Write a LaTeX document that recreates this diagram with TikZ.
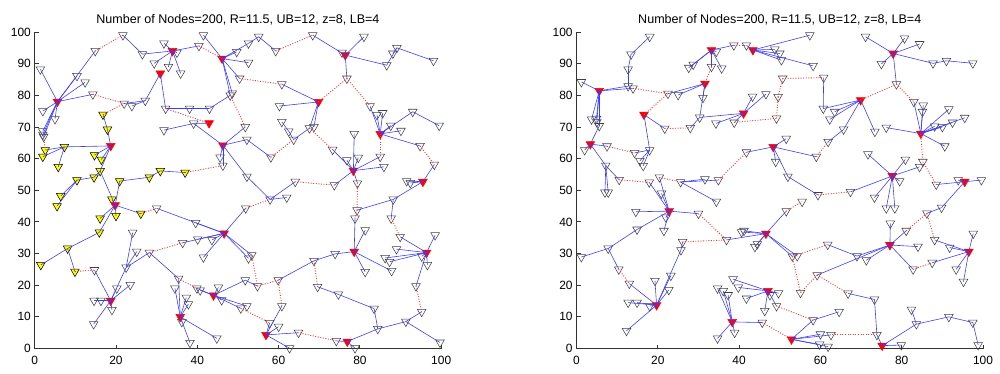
\documentclass[tikz,border=0pt]{standalone}
\usepackage{fontspec}
\setmainfont{Liberation Sans}
\usetikzlibrary{shapes.geometric}
\definecolor{linkblue}{RGB}{60,60,255}
\definecolor{gatered}{RGB}{255,55,55}
\definecolor{nodeyellow}{RGB}{255,255,0}
\tikzstyle{member}=[regular polygon, regular polygon sides=3, shape border rotate=180, draw=black!75, line width=0.45pt, minimum size=0.3cm, inner sep=0pt]
\tikzstyle{head}=[member, draw=red, fill=red]
\tikzstyle{yel}=[member, draw=black, fill=nodeyellow]
\tikzstyle{link}=[linkblue, line width=0.5pt]
\tikzstyle{gate}=[gatered, line width=0.8pt, dash pattern=on 0.8pt off 1.4pt]
\tikzstyle{axis}=[black!80, line width=0.7pt]
\tikzstyle{every node}=[font=\fontsize{10.2}{12}\selectfont]
\newcommand{\plottitle}{Number of Nodes=200, R=11.5, UB=12, z=8, LB=4}

\begin{document}
\begin{tikzpicture}
    \useasboundingbox (0,0) rectangle (30cm,11.19cm);
    % left panel
    \begin{scope}[shift={(1.041cm,0.735cm)}, x=0.12195cm, y=0.09495cm]
    \draw[axis] (0,100) -- (0,0) -- (100,0);
    \foreach \t in {0,20,...,100} {
        \draw[axis] (\t,0) -- ++(0,1.2);
        \node[anchor=north, inner sep=0pt] (Lxt\t) at (\t,-2.3) {\t};
    }
    \foreach \t in {0,10,...,100} {
        \draw[axis] (0,\t) -- ++(1,0);
        \node[anchor=east, inner sep=0pt] (Lyt\t) at (-0.9,\t) {\t};
    }
    \node[anchor=base, font=\fontsize{10.7}{12}\selectfont] (Ltitle) at (50,102.7) {\plottitle};
    \foreach \n/\x/\y in {1/1.4/88.2, 2/2/75, 3/5/72.5, 4/2/68.7, 5/2/67.6, 6/2.2/66.9, 7/10.4/86.1, 8/12.4/84.1, 9/14.3/80.3, 10/14.9/94, 11/21.7/99, 12/22/77.4, 13/26.5/93, 14/31.8/96.4, 15/35/93.5, 16/29.4/90.1, 17/32.9/89, 18/35.9/86.9, 19/40.4/95.6, 20/41.5/99, 21/49.7/93.7, 22/52.6/96.4, 23/52.6/90.3, 24/50.4/85.3, 25/48.1/80, 26/48.6/80.6, 27/55.1/98.5, 28/59.3/94, 29/68.4/99, 31/60.8/83.5, 32/27.2/78.3, 33/32.2/75.8, 34/38.1/75.8, 35/43/75.8, 36/23.9/76.6, 37/39.1/71.1, 38/31.8/69, 39/51.8/70, 40/52.2/66, 41/45.6/60.4, 42/46.3/57.8, 43/52.2/54.3, 44/30/44.3, 45/39.6/39.7, 46/36.4/33.4, 47/40.1/34.5, 48/43.6/34.3, 49/41.5/28.8, 50/51.9/44.3, 51/52.6/28.5, 52/53.4/29.5, 53/28.2/30.3, 54/25.1/30.6, 55/22.5/25.6, 56/24.1/36.6, 57/14.7/24.8, 58/23.5/20.1, 59/20.2/19, 60/14.6/15.1, 61/16.3/15.1, 62/19/12.2, 63/14.5/7.7, 64/35.4/22.1, 65/34.5/19, 66/37.3/16.1, 67/37.8/14, 68/36.2/8.4, 69/38.2/1.8, 70/44.8/3.2, 72/39.9/19, 73/40.7/18.4, 74/45.2/19.3, 75/46/15.3, 76/51.8/21.6, 77/50.7/12.7, 78/52.2/13.4, 79/57.9/47.1, 80/62/47.7, 82/58.1/60.4, 83/63.7/66, 84/67.6/69.6, 85/68.7/70, 86/60.2/76.6, 87/60.8/71.6, 88/62.5/68.6, 89/73.3/62.8, 91/81/98.5, 92/75.6/93.5, 93/88.1/93.2, 94/86.6/89.5, 95/76.8/85.3, 96/89.1/95, 97/98.1/90.9, 98/82.5/76.6, 99/84.2/73.8, 100/85.6/74.4, 101/87.6/70.4, 102/90.1/68.8, 103/93/74.8, 104/99.5/70.4, 105/94.8/64, 106/98.3/58.1, 107/85/60.6, 108/78.6/67.8, 109/76.8/59.5, 110/79.6/60.3, 111/85.9/57.4, 112/79.4/52.2, 113/78.8/41.1, 114/91.5/52.9, 115/92.4/52.3, 116/88.2/47.1, 117/79.3/43.7, 118/87.7/41.1, 119/89.9/35.3, 120/81.3/37.4, 121/73.9/29.9, 122/68.7/27.7, 123/81.3/24.2, 124/87.8/24.5, 125/98.5/35.8, 126/89/31.4, 127/86.2/28.6, 128/87.3/27.4, 129/95.2/29.1, 130/96.6/26.4, 131/93.8/19.7, 132/95.2/11.6, 133/91.3/8.5, 134/84.4/6.2, 135/99.7/1.9, 136/83.5/12.6, 137/74.7/17.1, 138/69.6/19.5, 139/74.2/2.4, 140/64.9/5, 141/78.8/0.1, 142/57.8/8.1, 143/60/6.9, 144/60.8/13.4, 145/59.9/21.6, 146/54.8/19.7, 148/62.7/0.1, 149/64.1/52.7, 150/73.7/51.6}
        \node[member] (L\n) at (\x,\y) {};
    \foreach \n/\x/\y in {y1/16.8/73.9, y2/17.9/69.2, y3/2.6/62.7, y4/2/60.6, y5/7.3/63.7, y6/5.8/57.4, y7/14.7/61.1, y8/16.4/59.7, y9/16.1/56.1, y10/14.6/54.1, y11/10.4/53.2, y12/20.9/52.9, y13/28.2/54.1, y14/30.9/56.1, y15/37/55.6, y16/6.4/48.2, y17/5.5/45, y18/19/47.1, y19/16.1/41.1, y20/20/41.9, y21/15.9/36.7, y22/8.1/31.6, y23/1.5/26.4, y24/9.9/24.3, y25/26.1/42.6}
        \node[yel] (L\n) at (\x,\y) {};
    \foreach \n/\x/\y in {h1/5.6/78, h2/33.9/94, h3/46.1/91.6, h4/30.9/86.9, h5/42.9/71.2, h6/18.7/64, h7/46.3/64.2, h8/76.4/92.7, h9/69.8/77.9, h10/85/67.8, h11/78.4/56.2, h12/95.5/52.7, h13/78.6/30.6, h14/96.4/30.3, h15/76.9/2.2, h16/56.9/4.3, h17/19.8/45.3, h18/46.6/36.4, h19/18.7/15.1, h20/35.8/10, h21/44/16.8}
        \node[head] (L\n) at (\x,\y) {};
    \foreach \a/\b in {h1/1, h1/2, h1/3, h1/4, h1/5, h1/6, h1/7, h1/8, h1/9, h1/10, 11/13, 13/h2, h2/14, h2/15, h2/16, h2/17, h2/18, h2/19, h3/20, h3/21, h3/22, h3/23, h3/24, h3/25, h3/26, 22/27, 27/28, 29/h8, 31/h9, h4/32, h4/33, 33/34, 34/35, 35/25, 12/32, 36/32, h5/37, 37/h7, 38/37, h7/39, h7/40, h7/41, h7/42, h7/43, 40/82, 43/79, 79/80, 79/149, 150/h11, y1/y2, y2/h6, y5/h6, y3/y5, y4/y5, y6/y5, h6/y7, h6/y8, h6/y9, y9/y10, y10/y11, y11/y16, y11/y17, h17/y12, y12/y13, y13/y14, y14/y15, h17/y18, h17/y19, h17/y20, h17/y21, y21/y22, y22/y23, y22/y24, h17/y25, h17/y9, h18/44, h18/45, h18/46, h18/47, h18/48, h18/49, h18/50, h18/51, h18/52, 54/55, 55/h19, 56/55, 53/55, h19/57, h19/58, h19/59, h19/60, h19/61, h19/62, h19/63, 53/64, h20/64, h20/65, h20/66, h20/67, h20/68, h20/69, h20/70, h21/72, h21/73, h21/74, h21/75, h21/76, h21/77, h21/78, h9/84, h9/85, h9/86, 87/88, 88/83, 83/84, h11/89, h8/91, h8/92, h8/94, 94/96, 96/97, 93/96, h8/95, h10/98, h10/99, h10/100, h10/101, h10/102, h10/103, 103/104, h10/105, h12/106, h11/107, h11/108, h11/109, h11/110, h11/111, h11/112, h12/114, h12/115, h12/116, 116/117, 118/116, h13/113, h14/119, h13/120, h13/121, 121/122, h13/123, h13/124, h14/125, h14/126, h14/127, h14/128, h14/129, h14/130, h14/131, 132/133, 133/134, 133/135, 134/136, 136/137, 137/138, 134/h15, h15/139, h15/141, h16/140, h16/142, h16/143, h16/144, 145/122, 146/76, h16/148}
        \draw[link] (L\a.center) -- (L\b.center);
    \foreach \a/\b in {10/11, 9/12, 6/y3, 19/h3, 28/29, 24/31, 33/h5, 25/39, y15/42, y1/12, y24/57, y25/44, 46/53, 64/72, 77/142, 50/79, 82/83, 84/89, h9/95, 95/98, 105/106, h10/107, 112/117, 117/113, 118/119, 131/132, 138/122, 139/140, 144/145, 145/146, 52/146, 149/150}
        \draw[gate] (L\a.center) -- (L\b.center);
    \end{scope}
    % right panel
    \begin{scope}[shift={(17.295cm,0.735cm)}, x=0.12195cm, y=0.09495cm]
    \draw[axis] (0,100) -- (0,0) -- (100,0);
    \foreach \t in {0,20,...,100} {
        \draw[axis] (\t,0) -- ++(0,1.2);
        \node[anchor=north, inner sep=0pt] (Rxt\t) at (\t,-2.3) {\t};
    }
    \foreach \t in {0,10,...,100} {
        \draw[axis] (0,\t) -- ++(1,0);
        \node[anchor=east, inner sep=0pt] (Ryt\t) at (-0.9,\t) {\t};
    }
    \node[anchor=base, font=\fontsize{10.7}{12}\selectfont] (Rtitle) at (50,102.7) {\plottitle};
    \foreach \n/\x/\y in {1/18/98.5, 2/13.4/92.9, 3/12.7/88.2, 4/12.7/82.9, 5/13.9/82.2, 6/22.5/80.5, 7/25/80.1, 8/1.2/84.2, 9/3.7/72.4, 10/4.9/72.6, 11/5.6/70.3, 12/5/71.5, 13/2/62.7, 14/7.5/63.9, 15/14.3/61.8, 16/18/62.7, 17/15.6/59.3, 18/16.4/57.7, 19/7.2/57.8, 20/7/49.3, 21/7.8/49.3, 22/21.7/69.5, 23/28/69.7, 24/30.3/73, 25/31.1/79.2, 26/28.7/89.7, 27/27.6/88.7, 28/33.2/89, 29/34.4/93.8, 30/35.7/88.5, 31/38.7/95.8, 32/41.8/95.8, 33/34.3/71.1, 34/38.8/71.4, 35/49.2/72.7, 36/49.6/79.5, 37/50.7/85.3, 38/60.8/85.6, 39/60.7/75.8, 40/43.3/79.6, 41/46.6/80.4, 42/57.4/99, 43/48.8/94.5, 44/50/93.2, 45/50.4/91.1, 46/58.2/89.3, 47/41.8/62, 49/34.9/53.2, 50/20.4/54.1, 51/17.9/52.5, 52/10.5/53.3, 53/25.6/52.6, 54/31.6/53.5, 55/34.4/46.4, 56/14.6/43.2, 57/22/41.4, 58/21.5/37.2, 59/30/42.6, 60/36.9/34.3, 61/14.9/37.6, 62/7.8/31.6, 63/1.2/28.9, 64/10.4/25, 65/13/20.5, 66/19.3/21.4, 67/12.7/14.5, 68/14.9/14.5, 69/18/13.4, 70/12.3/5.6, 71/22.7/18.5, 72/23.2/23, 73/25.7/31.1, 74/26.1/33.7, 75/40.6/36.8, 76/41.2/37.2, 77/43.9/32.1, 78/44.5/33, 79/51.6/43.4, 80/55.5/46.4, 81/59.4/48.5, 82/67.4/49.5, 83/73.3/47.7, 84/76.2/44.3, 85/78.3/44.3, 86/77.2/39.5, 87/81.1/37.2, 88/86.2/42.7, 89/89.8/44.5, 90/84/32.2, 91/82.8/25, 92/87.5/27.1, 93/69/29.2, 94/71.3/27.9, 95/61.8/32.8, 96/53.1/29.1, 97/54.3/29.2, 98/59.2/23.2, 99/66.8/17.4, 100/73.3/15.5, 101/73.9/4.3, 102/62.6/4.3, 103/55.1/17.6, 104/38.5/21.9, 105/34.7/19, 106/36.1/18.2, 107/37.3/16.9, 108/39.8/19.3, 109/41.8/15.8, 110/46.3/11.9, 111/47.6/16.9, 112/49.7/17.5, 113/49.2/13.4, 114/58.2/9, 115/64.6/11.6, 117/34.7/3.2, 118/38.9/5, 119/45.7/8.2, 120/60/4.5, 121/59.8/1.3, 122/61.9/0.6, 123/79.9/1.1, 124/83.6/7.7, 125/82.4/12.3, 126/91.6/10, 127/97.5/8.2, 128/98.8/1.1, 129/97.6/36.3, 130/88.1/34.3, 131/91.8/31.9, 132/93.4/25, 133/95.2/21.1, 134/63.5/74.8, 135/62.3/72.4, 136/65.7/69.2, 137/61.9/65.3, 138/59/60.6, 139/73.4/68.5, 140/78.7/83.5, 141/83/77.9, 142/71.1/98.5, 143/80.7/98, 144/84.4/96.2, 145/75/89.9, 146/87.7/90.1, 147/91/90.9, 148/97.5/90.1, 149/85.3/76.8, 150/85.1/74.8, 151/91.6/75.6, 152/95.5/72.9, 153/92.5/71.4, 154/90/70, 155/88.1/70.2, 156/76.2/69.8, 157/90.6/63.9, 158/85.2/59, 159/88.5/51.8, 160/51.6/66.3, 161/49/59, 162/52/54.3, 163/71.7/61.4, 164/80.9/59.7, 165/84.4/57.4, 166/79.5/52.9, 167/93.9/53.2, 168/99.6/53.2, 169/20.9/49}
        \node[member] (R\n) at (\x,\y) {};
    \foreach \n/\x/\y in {g1/5.6/81.4, g2/3.4/64.6, g3/16.6/73.9, g4/31.6/83.7, g5/33.2/94.3, g6/43.4/94.3, g7/41.1/74.3, g8/69.9/78.5, g9/77.9/93.2, g10/84.7/67.9, g11/48.4/63.7, g12/77.7/54.5, g13/95.5/52.7, g14/22.8/43.4, g15/19.7/13.7, g16/46.6/36.3, g17/47.1/18.2, g18/38.3/8.4, g19/77.1/32.7, g20/96.5/30.6, g21/52.9/2.9, g22/75.2/0.9}
        \node[head] (R\n) at (\x,\y) {};
    \foreach \a/\b in {1/2, 2/3, 3/4, 4/g1, 5/g1, 6/g4, 7/g4, g1/8, g1/9, g1/10, g1/11, g1/12, 11/g2, g2/13, g2/14, 15/16, g3/16, 16/17, 16/18, g2/19, 19/20, 19/21, 19/52, g3/22, 23/24, g7/24, 24/g4, g4/25, g5/26, g5/27, g5/28, g5/29, g5/30, g5/31, g6/32, g7/33, g7/34, 38/39, g8/39, g7/40, g7/41, g6/42, g6/43, g6/44, g6/45, g6/46, 47/g11, 50/g14, 51/g14, 169/g14, 53/49, 53/54, 53/55, g14/56, g14/57, g14/58, g14/59, g14/61, 61/62, 62/63, 62/64, g15/65, g15/66, g15/67, g15/68, g15/69, g15/70, g15/71, g15/72, g15/73, 73/74, 60/g16, g16/75, g16/76, g16/77, g16/78, g16/79, 162/81, 82/g12, 83/g12, 84/g12, 85/g12, g19/86, g19/87, 88/89, 89/g13, g19/90, g19/91, g20/92, g19/93, g19/94, 93/95, g16/96, g16/97, 98/g19, 99/100, 100/101, 101/g22, 102/g21, g17/104, g18/105, g18/106, g18/107, g17/108, g17/109, g17/110, g17/111, g17/112, g17/113, g21/114, 114/115, g18/117, g18/118, g18/119, g21/120, g21/121, g21/122, g22/123, g22/124, 124/125, 124/126, 126/127, 127/128, g20/129, g20/130, g20/131, g20/132, g20/133, g8/134, g8/135, g8/136, 136/137, g11/138, g8/139, 140/g9, g9/142, g9/143, g9/144, g9/145, g9/146, 146/147, 147/148, g10/141, g10/149, g10/150, g10/151, g10/152, g10/153, g10/154, g10/155, g10/156, g10/157, g11/160, g11/161, g11/162, g12/163, g12/164, g12/165, g12/166, g13/159, g13/167, g13/168}
        \draw[link] (R\a.center) -- (R\b.center);
    \foreach \a/\b in {5/6, g3/6, 14/15, 22/23, 28/g4, 31/32, 34/35, 35/36, 36/37, 37/38, 47/49, 52/51, 50/53, 59/60, 64/65, 74/60, 79/80, 81/82, 87/88, 91/92, 96/95, 98/103, 96/103, 98/99, 101/102, 113/114, 119/g21, 137/138, g8/140, 140/141, g10/158, 158/159, 88/130}
        \draw[gate] (R\a.center) -- (R\b.center);
    \end{scope}
\end{tikzpicture}
\end{document}
